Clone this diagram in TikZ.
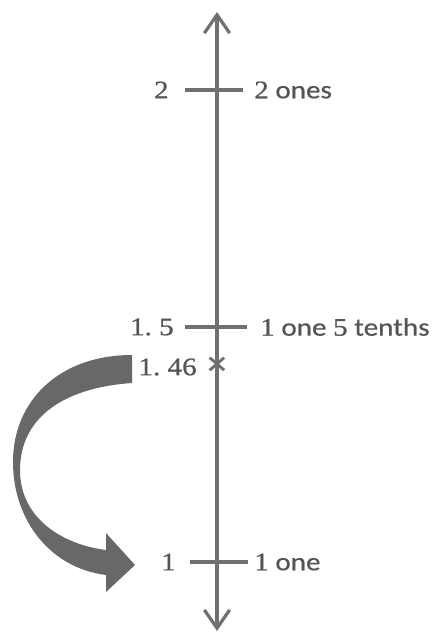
\documentclass[tikz,border=0pt]{standalone}
\usepackage{fontspec}
\setmainfont{Carlito}[FakeStretch=1.15,FakeBold=0.5]
\newfontfamily\numfont{Liberation Serif}[FakeStretch=1.15,FakeBold=0.7]
\usepackage{tikz}
\usetikzlibrary{arrows.meta}
\definecolor{axgray}{RGB}{112,112,112}
\definecolor{txtgray}{RGB}{84,84,84}
\definecolor{arrgray}{RGB}{104,104,104}

\begin{document}
\begin{tikzpicture}[x=0.025cm,y=-0.025cm,font=\fontsize{18}{21}\selectfont,
  lbl/.style={text=txtgray,inner sep=0pt},
  tick/.style={axgray,line width=2.7pt},
  barb/.tip={Straight Barb[length=13pt,width=18pt]}]
\useasboundingbox (0,0) rectangle (444,634);
% number line
\coordinate (top) at (217,12);
\coordinate (bot) at (217,631);
\draw[axgray,line width=2.3pt,barb-barb](bot)--(top);
% ticks
\coordinate (t2l) at (185,90); \coordinate (t2r) at (243,90);
\coordinate (t15l) at (185,327); \coordinate (t15r) at (247,327);
\coordinate (t1l) at (190,562); \coordinate (t1r) at (248,562);
\draw[tick](t2l)--(t2r);
\draw[tick](t15l)--(t15r);
\draw[tick](t1l)--(t1r);
% labels
\node[lbl,anchor=east](n2) at (169,90){\numfont 2};
\node[lbl,anchor=west](w2) at (254,90){{\numfont 2} ones};
\node[lbl,anchor=east](n15) at (174,327){\numfont 1.\ 5};
\node[lbl,anchor=west](w15) at (260,327){{\numfont 1} one {\numfont 5} tenths};
\node[lbl,anchor=east](n146) at (197,367){\numfont 1.\ 46};
\node[lbl,text=axgray](x146) at (217,366){\numfont\bfseries\fontsize{24}{26}\selectfont ×};
\node[lbl,anchor=east](n1) at (176,562){\numfont 1};
\node[lbl,anchor=west](w1) at (254,562){{\numfont 1} one};
% curved arrow
\fill[arrgray](132,355)--(132,383) .. controls (60,388) and (20,420) .. (20,470)
  .. controls (20,520) and (65,545) .. (106,550)--(106,533)--(135,565)--(106,592)--(106,575)
  .. controls (50,568) and (13,520) .. (13,462) .. controls (13,400) and (60,355) .. (132,355)--cycle;
\end{tikzpicture}
\end{document}
